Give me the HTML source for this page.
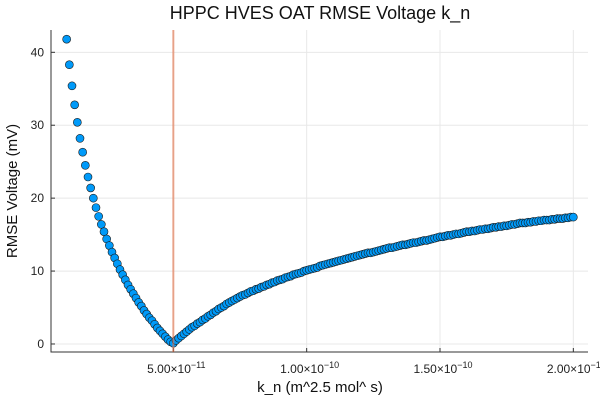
<!DOCTYPE html>
<html><head><meta charset="utf-8"><style>
html,body{margin:0;padding:0;background:#fff;width:600px;height:400px;overflow:hidden;font-family:"Liberation Sans","DejaVu Sans",sans-serif;}
</style></head><body>
<svg id="chart" width="600" height="400" xmlns="http://www.w3.org/2000/svg" style="font-family:'Liberation Sans','DejaVu Sans',sans-serif">
<text x="320" y="19" text-anchor="middle" font-size="18" fill="#111">HPPC HVES OAT RMSE Voltage k_n</text>
<text transform="translate(17,191) rotate(-90)" text-anchor="middle" font-size="15" fill="#111">RMSE Voltage (mV)</text>
<text x="320" y="392" text-anchor="middle" font-size="15" fill="#111">k_n (m^2.5 mol^ s)</text>
<g id="grid"></g><g id="axes"></g><g id="marks"></g>
</svg>
<script>
const xTicks = [5e-11, 1e-10, 1.5e-10, 2e-10];
const xTickMant = ["5.00", "1.00", "1.50", "2.00"];
const xTickExp = ["−11", "−10", "−10", "−10"];
const yTicks = [0, 10, 20, 30, 40];
const vlineX = 5e-11;
const kStart = 1e-11;
const kStep = 1e-12;
const leftValues = [41.8,38.3,35.4,32.8,30.4,28.2,26.3,24.5,22.9,21.4,
20.0,18.7,17.5,16.4,15.4,14.4,13.5,12.6,11.8,11.0,
10.2,9.5,8.8,8.1,7.5,6.9,6.3,5.7,5.2,4.6,
4.1,3.6,3.2,2.7,2.2,1.8,1.4,1.0,0.6,0.3];
const rightValues = [0.1,0.5,0.8,1.1,1.4,1.7,2.0,2.3,2.5,2.8,
3.0,3.3,3.5,3.8,4.0,4.3,4.5,4.8,5.0,5.2,
5.5,5.7,5.9,6.1,6.3,6.5,6.7,6.8,7.0,7.2,
7.3,7.5,7.6,7.8,7.9,8.1,8.2,8.4,8.5,8.7,
8.8,8.9,9.1,9.2,9.3,9.5,9.6,9.7,9.8,10.0,
10.1,10.2,10.3,10.4,10.5,10.7,10.8,10.9,11.0,11.1,
11.2,11.3,11.4,11.5,11.6,11.7,11.8,11.9,12.0,12.1,
12.2,12.3,12.4,12.5,12.5,12.6,12.7,12.8,12.9,13.0,
13.1,13.2,13.2,13.3,13.4,13.5,13.6,13.6,13.7,13.8,
13.9,13.9,14.0,14.1,14.2,14.2,14.3,14.4,14.5,14.6,
14.7,14.7,14.8,14.9,14.9,15.0,15.1,15.1,15.2,15.3,
15.4,15.4,15.5,15.5,15.6,15.7,15.7,15.8,15.8,15.9,
16.0,16.0,16.1,16.1,16.2,16.2,16.3,16.4,16.4,16.5,
16.6,16.6,16.6,16.7,16.7,16.8,16.8,16.9,16.9,17.0,
17.0,17.0,17.1,17.1,17.2,17.2,17.2,17.3,17.3,17.4,17.4];

const NS="http://www.w3.org/2000/svg";
const L=51,R=588,T=30,B=352;
const xMin=0.4125e-11, xMax=20.55e-11, yMin=-1.1, yMax=43.06;
function sx(v){return L+(v-xMin)/(xMax-xMin)*(R-L);}
function sy(v){return B-(v-yMin)/(yMax-yMin)*(B-T);}
function mk(tag,attrs,parent){const e=document.createElementNS(NS,tag);for(const k in attrs)e.setAttribute(k,attrs[k]);parent.appendChild(e);return e;}
const grid=document.getElementById('grid'),axes=document.getElementById('axes'),marks=document.getElementById('marks');

xTicks.forEach((t,i)=>{
  const g=mk('line',{x1:sx(t),x2:sx(t),y1:T,y2:B,stroke:'#e8e8e8','stroke-width':1},grid);
  
  
  const tk=mk('line',{x1:sx(t),x2:sx(t),y1:B,y2:B-4,stroke:'#333','stroke-width':1},axes);
  
  
  const tx=mk('text',{x:sx(t)+3,y:B+21,'text-anchor':'middle','font-size':12,fill:'#222'},axes);
  
  
  tx.textContent=xTickMant[i]+'×10';
  const sp=mk('tspan',{dy:-5,'font-size':9},tx);
  sp.textContent=xTickExp[i];
});
yTicks.forEach(t=>{
  const g=mk('line',{x1:L,x2:R,y1:sy(t),y2:sy(t),stroke:'#e8e8e8','stroke-width':1},grid);
  
  
  const tk=mk('line',{x1:L,x2:L+4,y1:sy(t),y2:sy(t),stroke:'#333','stroke-width':1},axes);
  
  
  const tx=mk('text',{x:L-7,y:sy(t)+4,'text-anchor':'end','font-size':12,fill:'#222'},axes);
  
  
  tx.textContent=t;
});
const ax=mk('path',{d:`M${L},${T} V${B} H${R}`,fill:'none',stroke:'#333','stroke-width':1},axes);



const values=leftValues.concat(rightValues);
values.forEach((v,i)=>{
  const k=kStart+i*kStep;
  const c=mk('circle',{cx:sx(k),cy:sy(v),r:4,fill:'#009af9',stroke:'#1a1a1a','stroke-width':0.6},marks);
  
  
});
const vl=mk('line',{x1:sx(vlineX),x2:sx(vlineX),y1:T,y2:B,stroke:'#e26f46','stroke-opacity':0.6,'stroke-width':2},marks);


</script>
</body></html>
